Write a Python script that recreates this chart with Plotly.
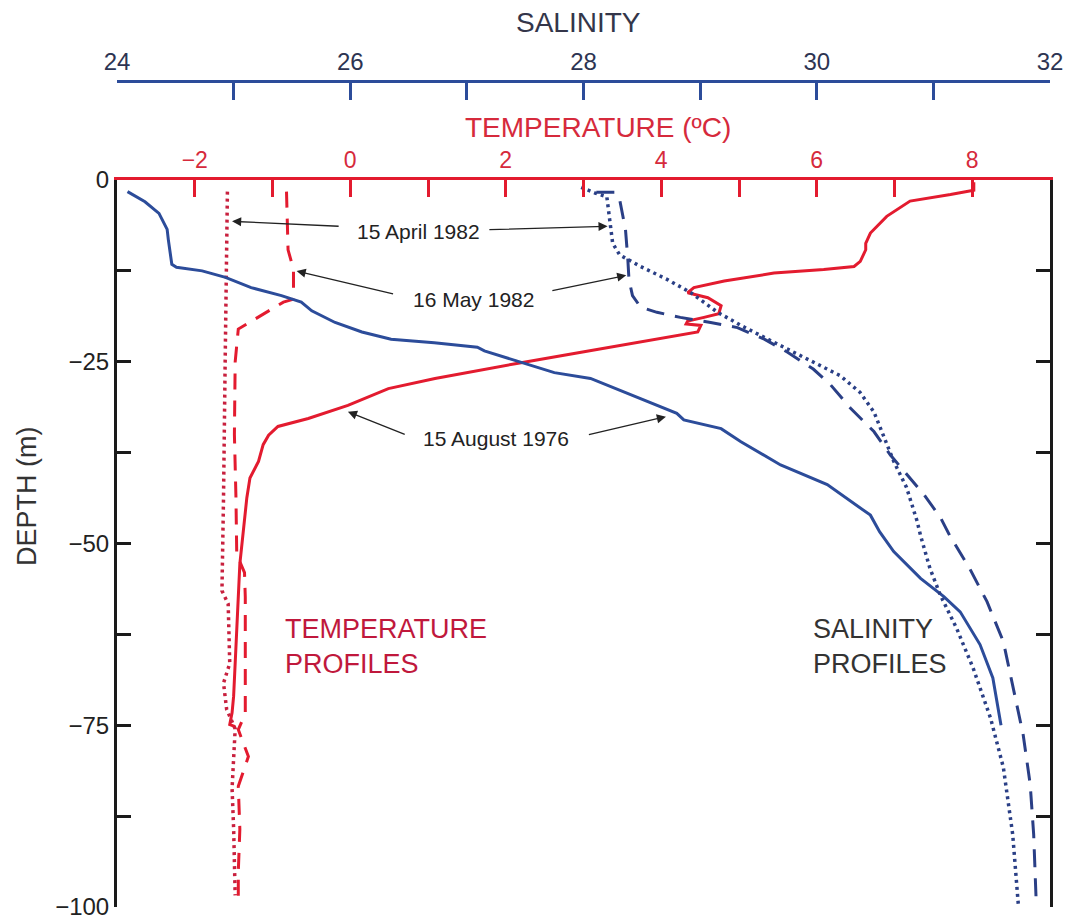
import plotly.graph_objects as go

# ---------------- data ----------------
# Temperature profiles (deg C) vs depth (m)
aug76_temp_depth = [-0.3, -1.4, -2.0, -2.9, -5.0, -7.3, -8.7, -9.6, -11.2, -11.9, -12.3, -12.8,
                    -13.9, -14.8, -15.5, -16.2, -17.3, -18.4, -18.9, -19.4, -19.8, -20.0, -20.9,
                    -22.3, -23.7, -25.2, -27.3, -28.7, -31.0, -32.8, -33.9, -35.1, -36.4, -38.7,
                    -41.0, -43.7, -47.8, -52.8, -61.9, -71.0, -73.3, -74.9, -75.2]
aug76_temp = [8.02, 8.02, 7.72, 7.20, 6.90, 6.69, 6.63, 6.63, 6.56, 6.48, 6.09, 5.45,
              4.81, 4.42, 4.34, 4.60, 4.77, 4.74, 4.55, 4.34, 4.32, 4.51, 4.47,
              3.74, 2.97, 2.16, 1.09, 0.49, -0.03, -0.54, -0.93, -1.05, -1.12, -1.18,
              -1.29, -1.33, -1.37, -1.42, -1.46, -1.50, -1.52, -1.55, -1.48]

may82_temp_depth = [-1.6, -9.6, -12.3, -16.4, -16.8, -19.6, -20.5, -25.0, -35.0, -43.7, -51.5,
                    -54.0, -57.4, -73.4, -75.6, -79.3, -83.4, -89.3, -95.2, -99.3]
may82_temp = [-0.82, -0.80, -0.73, -0.73, -0.86, -1.31, -1.44, -1.48, -1.49, -1.47, -1.46,
              -1.36, -1.35, -1.35, -1.44, -1.31, -1.44, -1.42, -1.44, -1.44]

apr82_temp_depth = [-1.6, -13.2, -26.0, -43.7, -56.5, -58.3, -66.5, -69.2, -72.8, -75.5, -83.7,
                    -89.2, -98.4]
apr82_temp = [-1.58, -1.59, -1.61, -1.63, -1.65, -1.57, -1.55, -1.63, -1.59, -1.48, -1.52,
              -1.50, -1.48]

# Salinity profiles vs depth (m)
aug76_sal_depth = [-1.6, -3.0, -4.6, -6.8, -8.2, -11.6, -12.0, -12.5, -13.4, -14.8, -15.9, -16.8,
                   -18.0, -19.6, -20.9, -21.9, -22.4, -23.0, -23.5, -25.0, -26.5, -27.3, -30.1,
                   -32.1, -33.0, -34.2, -36.0, -39.2, -41.9, -44.3, -46.1, -48.4, -51.1, -54.8,
                   -57.3, -59.4, -63.9, -68.5, -75.0]
aug76_sal = [24.09, 24.24, 24.36, 24.43, 24.44, 24.47, 24.51, 24.73, 24.93, 25.15, 25.41, 25.58,
             25.67, 25.87, 26.10, 26.35, 26.72, 27.09, 27.15, 27.46, 27.75, 28.06, 28.49,
             28.80, 28.86, 29.18, 29.35, 29.69, 30.09, 30.30, 30.46, 30.54, 30.66, 30.89,
             31.09, 31.23, 31.40, 31.51, 31.58]

may82_sal_depth = [-1.7, -1.7, -2.7, -6.8, -10.9, -13.7, -15.9, -17.5, -18.2, -18.9, -19.6, -20.3,
                   -21.9, -23.7, -26.0, -28.2, -31.4, -34.6, -37.8, -40.5, -43.3, -46.4, -48.9,
                   -53.4, -58.0, -63.5, -69.4, -76.3, -83.1, -90.0, -98.6]
may82_sal = [28.11, 28.27, 28.31, 28.36, 28.38, 28.39, 28.42, 28.49, 28.63, 28.83, 29.09, 29.32,
             29.55, 29.75, 29.97, 30.12, 30.29, 30.49, 30.63, 30.77, 30.92, 31.06, 31.14,
             31.31, 31.46, 31.60, 31.68, 31.77, 31.83, 31.86, 31.88]

apr82_sal_depth = [-1.0, -1.8, -2.3, -6.4, -8.7, -10.3, -11.9, -13.7, -15.5, -18.2, -20.0, -22.3,
                   -24.6, -26.9, -29.2, -31.9, -35.1, -38.7, -42.3, -46.9, -48.9, -53.4, -57.1,
                   -61.7, -67.1, -74.0, -80.8, -90.0, -100.0]
apr82_sal = [27.98, 28.10, 28.20, 28.23, 28.25, 28.31, 28.49, 28.72, 28.92, 29.15, 29.35, 29.63,
             29.92, 30.20, 30.37, 30.49, 30.57, 30.66, 30.77, 30.86, 30.89, 30.97, 31.06,
             31.20, 31.34, 31.49, 31.60, 31.68, 31.73]

# Axis ticks
temp_ticks = [-2, -1, 0, 1, 2, 3, 4, 5, 6, 7, 8]
temp_ticklabels = ["\u22122", "", "0", "", "2", "", "4", "", "6", "", "8"]
sal_ticks = [24, 25, 26, 27, 28, 29, 30, 31, 32]
sal_ticklabels = ["24", "", "26", "", "28", "", "30", "", "32"]
depth_ticks = [0, -12.5, -25, -37.5, -50, -62.5, -75, -87.5, -100]
depth_ticklabels = ["0", "", "\u221225", "", "\u221250", "", "\u221275", "", "\u2212100"]

# Date labels with arrows: (text, text_T, text_D, [(head_T, head_D, tail_T, tail_D), ...])
date_labels = [
    ("15 April 1982", 0.88, -7.06, [(-1.52, -5.69, -0.13, -6.37), (3.31, -6.37, 1.77, -6.83)]),
    ("16 May 1982", 1.58, -16.39, [(-0.69, -12.52, 0.57, -15.71), (3.55, -13.11, 2.58, -15.25)]),
    ("15 August 1976", 1.88, -35.5, [(-0.03, -31.87, 0.72, -35.07), (4.06, -32.55, 3.05, -35.07)]),
]

# ---------------- styling ----------------
FONT = "Liberation Sans"
RED = "#e31b2f"
RED_TXT = "#d62a3c"
BLUE = "#2c4c9a"
BLUE_DARK = "#2a3f86"
BLACK = "#1a1a1a"

TOP_M, BOT_M = 81, 12
PAPER_H = 919 - TOP_M - BOT_M
Y_DOMAIN_TOP = (PAPER_H - (180 - TOP_M)) / PAPER_H

def paper_y(px):
    return (919 - BOT_M - px) / PAPER_H

fig = go.Figure()

fig.add_trace(go.Scatter(x=aug76_temp, y=aug76_temp_depth, mode="lines", xaxis="x", yaxis="y",
                         line=dict(color=RED, width=3)))
fig.add_trace(go.Scatter(x=may82_temp, y=may82_temp_depth, mode="lines", xaxis="x", yaxis="y",
                         line=dict(color=RED, width=3, dash="16px,11px")))
fig.add_trace(go.Scatter(x=apr82_temp, y=apr82_temp_depth, mode="lines", xaxis="x", yaxis="y",
                         line=dict(color="#c8203e", width=3.5, dash="3px,4px")))

fig.add_trace(go.Scatter(x=aug76_sal, y=aug76_sal_depth, mode="lines", xaxis="x2", yaxis="y",
                         line=dict(color=BLUE, width=3)))
fig.add_trace(go.Scatter(x=may82_sal, y=may82_sal_depth, mode="lines", xaxis="x2", yaxis="y",
                         line=dict(color=BLUE_DARK, width=3, dash="18px,11px")))
fig.add_trace(go.Scatter(x=apr82_sal, y=apr82_sal_depth, mode="lines", xaxis="x2", yaxis="y",
                         line=dict(color=BLUE_DARK, width=3.5, dash="3px,4px")))

annotations = []
for text, tx, ty, arrows in date_labels:
    annotations.append(dict(x=tx, y=ty, xref="x", yref="y", text=text, showarrow=False,
                            xanchor="center", yanchor="middle",
                            font=dict(family=FONT, size=21, color="#222222")))
    for hx, hy, axx, ayy in arrows:
        annotations.append(dict(x=hx, y=hy, ax=axx, ay=ayy, xref="x", yref="y", axref="x",
                                ayref="y", text="", showarrow=True, arrowhead=2, arrowsize=1.4,
                                arrowwidth=1.3, arrowcolor="#222222", standoff=0, startstandoff=0))

annotations += [
    dict(x=-0.86, y=-64.2, xref="x", yref="y", text="TEMPERATURE<br>PROFILES", showarrow=False,
         xanchor="left", yanchor="middle", align="left",
         font=dict(family=FONT, size=27, color="#c0183c")),
    dict(x=5.92, y=-64.2, xref="x", yref="y", text="SALINITY<br>PROFILES", showarrow=False,
         xanchor="left", yanchor="middle", align="left",
         font=dict(family=FONT, size=27, color="#333333")),
    dict(x=2.94, y=paper_y(23), xref="x", yref="paper", text="SALINITY", showarrow=False,
         xanchor="center", yanchor="middle",
         font=dict(family=FONT, size=28, color="#34364a")),
    dict(x=3.19, y=paper_y(127), xref="x", yref="paper", text="TEMPERATURE (\u00baC)",
         showarrow=False, xanchor="center", yanchor="middle",
         font=dict(family=FONT, size=28, color=RED_TXT)),
    dict(x=-0.0965, y=paper_y(496), xref="paper", yref="paper", text="DEPTH (m)",
         showarrow=False, xanchor="center", yanchor="middle",
         textangle=-90, font=dict(family=FONT, size=27, color="#333333")),
]

fig.update_layout(
    width=1065, height=919,
    margin=dict(l=117, r=15, t=TOP_M, b=BOT_M, autoexpand=False),
    paper_bgcolor="white", plot_bgcolor="white",
    showlegend=False,
    font=dict(family=FONT),
    xaxis=dict(range=[-3, 9], side="top", anchor="y", showline=True, linecolor=RED, linewidth=3,
               ticks="inside", ticklen=17, tickwidth=3, tickcolor=RED,
               tickmode="array", tickvals=temp_ticks, ticktext=temp_ticklabels,
               tickfont=dict(family=FONT, size=23, color=RED_TXT),
               automargin=False, showgrid=False, zeroline=False),
    xaxis2=dict(range=[24, 32], overlaying="x", side="top", anchor="free", position=1,
                showline=True, linecolor=BLUE, linewidth=3,
                ticks="inside", ticklen=17, tickwidth=3, tickcolor=BLUE,
                tickmode="array", tickvals=sal_ticks, ticktext=sal_ticklabels,
                tickfont=dict(family=FONT, size=24, color="#2d3452"),
                ticklabeloverflow="allow", automargin=False,
                showgrid=False, zeroline=False),
    yaxis=dict(range=[-100, 0], domain=[0, Y_DOMAIN_TOP], showline=True, linecolor=BLACK,
               linewidth=3, mirror="ticks", ticks="inside", ticklen=14, tickwidth=3,
               tickcolor=BLACK, tickmode="array", tickvals=depth_ticks,
               ticktext=depth_ticklabels,
               tickfont=dict(family=FONT, size=24, color="#222222"),
               ticklabeloverflow="allow", automargin=False,
               showgrid=False, zeroline=False),
    annotations=annotations,
)

# Remove the default page margin so the figure sits at the window's top-left corner
fig.write_html("out.html", config={"displayModeBar": False},
               post_script="document.body.style.margin='0';")
